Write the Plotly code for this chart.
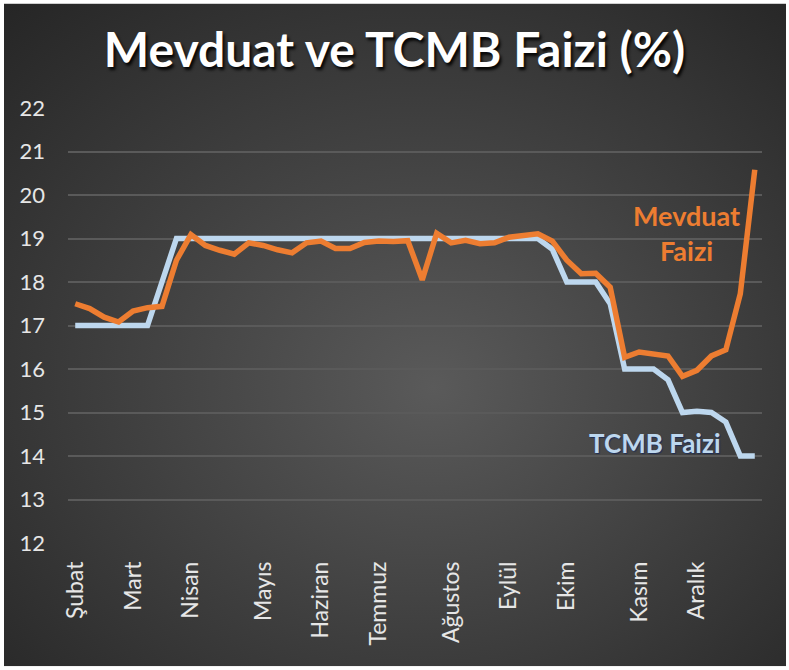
import base64
import plotly.graph_objects as go

# ---------------- data ----------------
months = ["Şubat", "Mart", "Nisan", "Mayıs", "Haziran", "Temmuz",
          "Ağustos", "Eylül", "Ekim", "Kasım", "Aralık"]
month_idx = [0, 4, 8, 13, 17, 21, 26, 30, 34, 39, 43]

mevduat = [17.50, 17.39, 17.19, 17.08, 17.33, 17.41, 17.44, 18.50, 19.09, 18.84,
           18.73, 18.64, 18.90, 18.84, 18.74, 18.67, 18.90, 18.94, 18.77, 18.77,
           18.91, 18.94, 18.93, 18.95, 18.05, 19.12, 18.90, 18.96, 18.88, 18.90,
           19.03, 19.07, 19.11, 18.94, 18.50, 18.19, 18.20, 17.88, 16.27, 16.39,
           16.35, 16.30, 15.83, 15.97, 16.30, 16.44, 17.73, 20.58]

tcmb = [17.0, 17.0, 17.0, 17.0, 17.0, 17.0, 18.0, 19.0, 19.0, 19.0,
        19.0, 19.0, 19.0, 19.0, 19.0, 19.0, 19.0, 19.0, 19.0, 19.0,
        19.0, 19.0, 19.0, 19.0, 19.0, 19.0, 19.0, 19.0, 19.0, 19.0,
        19.0, 19.0, 19.0, 18.75, 18.0, 18.0, 18.0, 17.5, 16.0, 16.0,
        16.0, 15.75, 15.0, 15.03, 15.0, 14.78, 14.0, 14.0]

x = list(range(len(mevduat)))

ORANGE = "#ED7D31"
BLUE = "#BDD7EE"
FONT = "Lato"

# ---------------- background (radial gradient) ----------------
svg = """<svg xmlns='http://www.w3.org/2000/svg' width='782' height='663' viewBox='0 0 782 663' preserveAspectRatio='none'>
<defs><radialGradient id='g' cx='52%' cy='55%' r='75%' fx='55%' fy='58%'>
<stop offset='0%' stop-color='#5a5a5a'/>
<stop offset='100%' stop-color='#262626'/>
</radialGradient></defs>
<rect x='0' y='0' width='782' height='663' fill='url(#g)'/>
</svg>"""
bg_src = "data:image/svg+xml;base64," + base64.b64encode(svg.encode()).decode()

W, H = 789, 670
ML, MR, MT, MB = 68, 27, 107.5, 127.3
pw = W - ML - MR
ph = H - MT - MB

fig = go.Figure()

fig.add_trace(go.Scatter(
    x=x, y=tcmb, mode="lines", name="TCMB Faizi",
    line=dict(color=BLUE, width=5.5), hoverinfo="x+y"))
fig.add_trace(go.Scatter(
    x=x, y=mevduat, mode="lines", name="Mevduat Faizi",
    line=dict(color=ORANGE, width=5.5), hoverinfo="x+y"))

fig.add_layout_image(dict(
    source=bg_src, xref="paper", yref="paper",
    x=(4 - ML) / pw, y=(MT + ph - 3) / ph,
    sizex=(786 - 4) / pw, sizey=(666 - 3) / ph,
    xanchor="left", yanchor="top", sizing="stretch", layer="below"))

fig.add_annotation(
    x=42.3, y=19.13, xref="x", yref="y", showarrow=False,
    text="<b>Mevduat</b><br><b>Faizi</b>",
    font=dict(family=FONT, size=27, color=ORANGE), align="center")
fig.add_annotation(
    x=40.07, y=14.29, xref="x", yref="y", showarrow=False,
    text="<b>TCMB Faizi</b>",
    font=dict(family=FONT, size=26, color=BLUE,
              shadow="1px 1px 1px rgba(20,40,90,0.8)"), align="center")

fig.update_layout(
    width=W, height=H,
    margin=dict(l=ML, r=MR, t=MT, b=MB, pad=0),
    paper_bgcolor="white",
    plot_bgcolor="rgba(0,0,0,0)",
    showlegend=False,
    title=dict(
        text="<b>Mevduat ve TCMB Faizi (%)</b>",
        x=0.5, xref="container", xanchor="center",
        y=1 - 50 / H, yref="container", yanchor="middle",
        font=dict(family=FONT, size=48, color="white",
                  shadow="2px 3px 3px rgba(0,0,0,0.9)")),
    xaxis=dict(
        range=[-0.5, len(mevduat) - 0.5],
        tickmode="array", tickvals=month_idx, ticktext=months,
        tickangle=-90, showgrid=False, zeroline=False, showline=False,
        ticks="", ticklabelstandoff=13,
        tickfont=dict(family=FONT, size=23, color="#e6e6e6")),
    yaxis=dict(
        range=[12, 22], dtick=1, tick0=12,
        showgrid=True, gridcolor="#5a5a5a", gridwidth=1.5,
        zeroline=False, showline=False, ticks="", ticklabelstandoff=22,
        tickfont=dict(family=FONT, size=22, color="#e6e6e6")),
)

fig.write_html("out.html")
